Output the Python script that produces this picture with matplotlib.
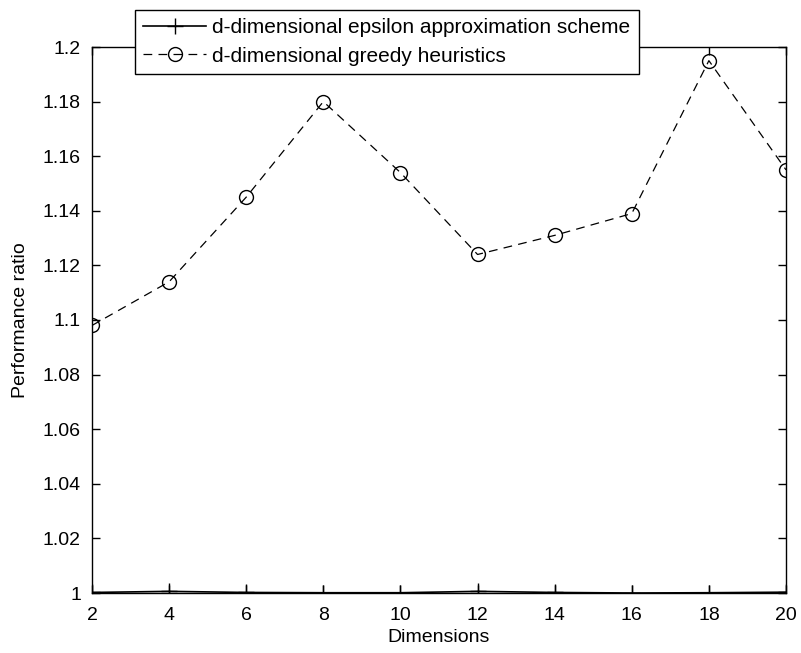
import matplotlib
matplotlib.use("Agg")
import matplotlib.pyplot as plt

dimensions = [2, 4, 6, 8, 10, 12, 14, 16, 18, 20]
epsilon_ratio = [1.0002, 1.0006, 1.0002, 1.0001, 1.0001, 1.0006, 1.0002, 1.0000, 1.0001, 1.0003]
greedy_ratio = [1.098, 1.114, 1.145, 1.180, 1.154, 1.124, 1.131, 1.139, 1.195, 1.155]
label_eps = "d-dimensional epsilon approximation scheme"
label_greedy = "d-dimensional greedy heuristics"
xticks = [2, 4, 6, 8, 10, 12, 14, 16, 18, 20]
yticks = [1, 1.02, 1.04, 1.06, 1.08, 1.1, 1.12, 1.14, 1.16, 1.18, 1.2]
yticklabels = ["1", "1.02", "1.04", "1.06", "1.08", "1.1", "1.12", "1.14", "1.16", "1.18", "1.2"]

plt.rcParams['font.family'] = ['Liberation Sans Narrow', 'Liberation Sans', 'DejaVu Sans']

fig = plt.figure(figsize=(8.01, 6.53), dpi=100)
ax = fig.add_axes([92/801, 1-593/653, (786-92)/801, (593-47)/653])

ax.plot(dimensions, epsilon_ratio, color='black', linestyle='-', linewidth=1.2,
        marker='+', markersize=11, markeredgewidth=1.0, label=label_eps)
ax.plot(dimensions, greedy_ratio, color='black', linestyle=(0, (7, 5)), linewidth=0.9,
        marker='o', markersize=10, markerfacecolor='none', markeredgewidth=1.0,
        label=label_greedy)

ax.set_xlim(2, 20)
ax.set_ylim(1, 1.2)
ax.set_xticks(xticks)
ax.set_yticks(yticks)
ax.set_yticklabels(yticklabels)
ax.tick_params(direction='in', length=6, width=1, top=True, right=True,
               labelsize=14)
ax.tick_params(axis='x', pad=10)
ax.tick_params(axis='y', pad=8)
for s in ax.spines.values():
    s.set_linewidth(1.0)
ax.set_xlabel("Dimensions", fontsize=14, labelpad=4)
ax.set_ylabel("Performance ratio", fontsize=14, labelpad=10)

leg = ax.legend(loc='upper left', bbox_to_anchor=(135/801, 1-10/653),
                bbox_transform=fig.transFigure, borderaxespad=0,
                fancybox=False, framealpha=1, edgecolor='black',
                fontsize=15, handlelength=3.0, handletextpad=0.3,
                borderpad=0.4, labelspacing=0.45)
leg.get_frame().set_linewidth(1.0)

fig.savefig("out.png", dpi=100)
